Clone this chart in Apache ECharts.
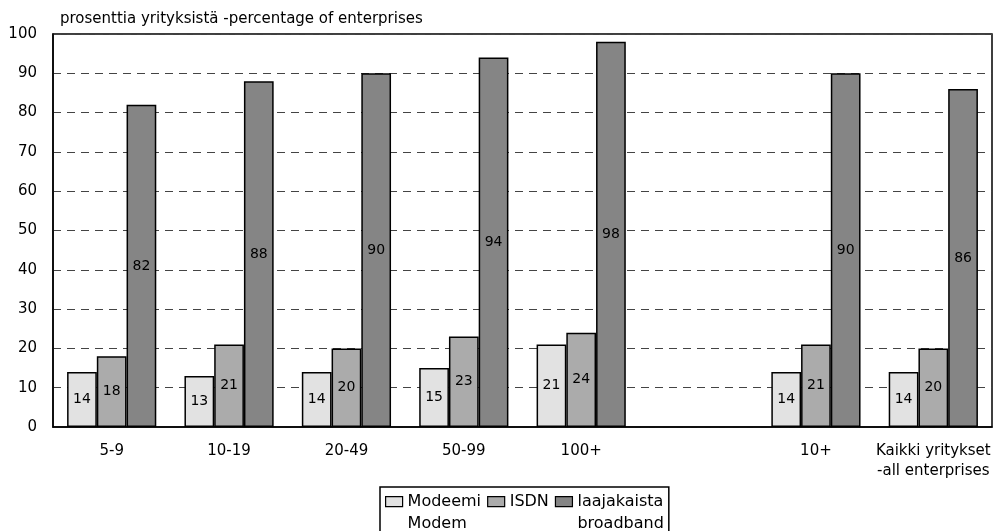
<!DOCTYPE html>
<html><head><meta charset="utf-8">
<script src="https://cdn.jsdelivr.net/npm/echarts@6/dist/echarts.min.js"></script>
<style>html,body{margin:0;padding:0;background:#fff}#c{width:995px;height:531px}</style>
</head><body><div id="c"></div>
<script>
const categories = ['5-9', '10-19', '20-49', '50-99', '100+', '', '10+', 'Kaikki yritykset\n-all enterprises'];
const modem = [14, 13, 14, 15, 21, '-', 14, 14];
const isdn = [18, 21, 20, 23, 24, '-', 21, 20];
const broadband = [82, 88, 90, 94, 98, '-', 90, 86];
const yTicks = [0, 10, 20, 30, 40, 50, 60, 70, 80, 90, 100];
const seriesNames = ['Modeemi\nModem', 'ISDN', 'laajakaista\nbroadband'];

const F = '"DejaVu Sans", Arial, sans-serif';
const chart = echarts.init(document.getElementById('c'), null, {renderer: 'canvas'});
function bar(name, data, color) {
  return {
    name: name, type: 'bar', data: data, barGap: '0%', barCategoryGap: '24%',
    itemStyle: {color: color, borderColor: '#000', borderWidth: 1.5},
    label: {show: true, position: 'inside', color: '#000', fontSize: 14, fontFamily: F},
    z: 3
  };
}
// legend icon: swatch sits on the first text line
const legendIcon = 'path://M0,6 L17,6 L17,16 L0,16 Z M0,0 M17,44';
chart.setOption({
  animation: false,
  title: {text: 'prosenttia yrityksistä -percentage of enterprises', left: 55, top: 7,
    textStyle: {fontSize: 15, fontWeight: 'normal', color: '#000', fontFamily: F}},
  grid: {left: 53, right: 3, top: 34, bottom: 104, show: true, borderColor: '#000', borderWidth: 1.5, backgroundColor: 'transparent'},
  legend: {
    data: seriesNames, left: 380, top: 487, orient: 'horizontal',
    backgroundColor: '#fff', borderColor: '#000', borderWidth: 1.5, borderRadius: 0,
    padding: [3, 5, 3, 5], itemGap: 6, itemWidth: 17, itemHeight: 44, icon: legendIcon,
    symbolKeepAspect: false,
    itemStyle: {borderColor: '#000', borderWidth: 1.2},
    formatter: function (n) {
      return n.indexOf('\n') >= 0 ? n : n + '\n\u00a0';
    },
    textStyle: {fontSize: 16, color: '#000', fontFamily: F, lineHeight: 22}
  },
  xAxis: {
    type: 'category', data: categories,
    axisLine: {lineStyle: {color: '#000', width: 1.5}},
    axisTick: {show: false},
    axisLabel: {color: '#000', fontSize: 15, fontFamily: F, margin: 14, interval: 0, lineHeight: 20}
  },
  yAxis: {
    type: 'value', min: 0, max: 100, interval: 10,
    axisLine: {show: true, lineStyle: {color: '#000', width: 1.5}},
    axisTick: {show: false},
    axisLabel: {color: '#000', fontSize: 15, fontFamily: F, margin: 16,
      formatter: v => yTicks.includes(v) ? String(v) : ''},
    splitLine: {show: true, lineStyle: {color: '#444', width: 1.2, type: [8, 6]}}
  },
  series: [
    bar(seriesNames[0], modem, '#e2e2e2'),
    bar(seriesNames[1], isdn, '#ababab'),
    bar(seriesNames[2], broadband, '#858585')
  ]
});
</script></body></html>
